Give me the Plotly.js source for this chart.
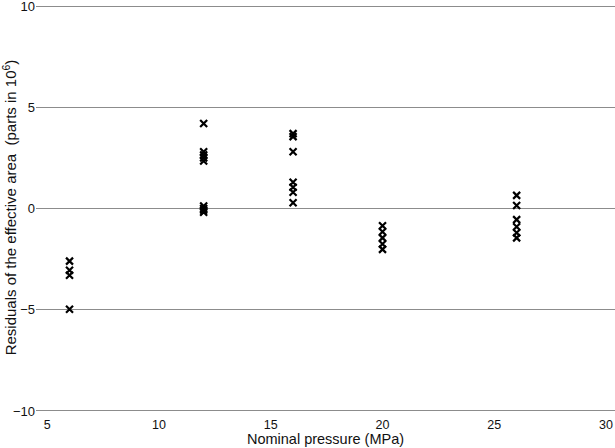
<!DOCTYPE html>
<html>
<head>
<meta charset="utf-8">
<script src="https://cdn.plot.ly/plotly-3.0.1.min.js"></script>
<style>
  body { margin: 0; background: #fff; }
  #residualsGraph { width: 615px; height: 448px; }
</style>
</head>
<body>
<div id="residualsGraph"></div>
<script>
// residuals, grouped by nominal pressure (MPa)
const pressures = [6, 12, 16, 20, 26]
const residuals6 = [-2.6, -3.05, -3.3, -4.98]
const residuals12 = [4.2, 2.8, 2.65, 2.5, 2.35, 0.12, 0.0, -0.08, -0.18]
const residuals16 = [3.7, 3.55, 2.8, 1.3, 1.05, 0.8, 0.28]
const residuals20 = [-0.85, -1.15, -1.45, -1.75, -2.02]
const residuals26 = [0.65, 0.15, -0.55, -0.9, -1.2, -1.45]

const xTicks = [5, 10, 15, 20, 25, 30]
const yTicks = [-10, -5, 0, 5, 10]

const displayResiduals = () => {
  const groups = [residuals6, residuals12, residuals16, residuals20, residuals26]
  const xs = []
  const ys = []
  groups.forEach((vals, i) => {
    vals.forEach(v => {
      xs.push(pressures[i])
      ys.push(v)
    })
  })

  const viewData = [
    {
      x: xs,
      y: ys,
      type: 'scatter',
      mode: 'markers',
      marker: {
        symbol: 'x-thin',
        size: 7,
        color: '#000',
        line: { color: '#000', width: 2.2 },
      },
      hoverinfo: 'skip',
    }
  ]

  const layout = {
    showlegend: false,
    width: 615,
    height: 448,
    margin: { t: 0, b: 33, l: 36, r: 0 },
    paper_bgcolor: '#fff',
    plot_bgcolor: '#fff',
    font: { family: 'Liberation Sans, Arial, sans-serif', size: 13, color: '#111' },
    xaxis: {
      range: [4.5, 30.4],
      tickvals: xTicks,
      showgrid: false,
      zeroline: false,
      showline: false,
      ticks: '',
      ticklabeloverflow: 'allow',
      tickfont: { size: 12.5 },
      title: { text: 'Nominal pressure (MPa)', standoff: 1, font: { size: 14.5 } },
    },
    yaxis: {
      range: [-10.2, 10.3],
      tickvals: yTicks,
      showgrid: true,
      gridcolor: '#8c8c8c',
      gridwidth: 1,
      zeroline: false,
      showline: false,
      ticks: '',
      ticklabeloverflow: 'allow',
      title: { text: 'Residuals of the effective area  (parts in 10<sup>6</sup>)', standoff: 3, font: { size: 15 } },
    },
  }

  Plotly.newPlot('residualsGraph', viewData, layout, { responsive: false, displayModeBar: false, staticPlot: true })
}

displayResiduals()
</script>
</body>
</html>
